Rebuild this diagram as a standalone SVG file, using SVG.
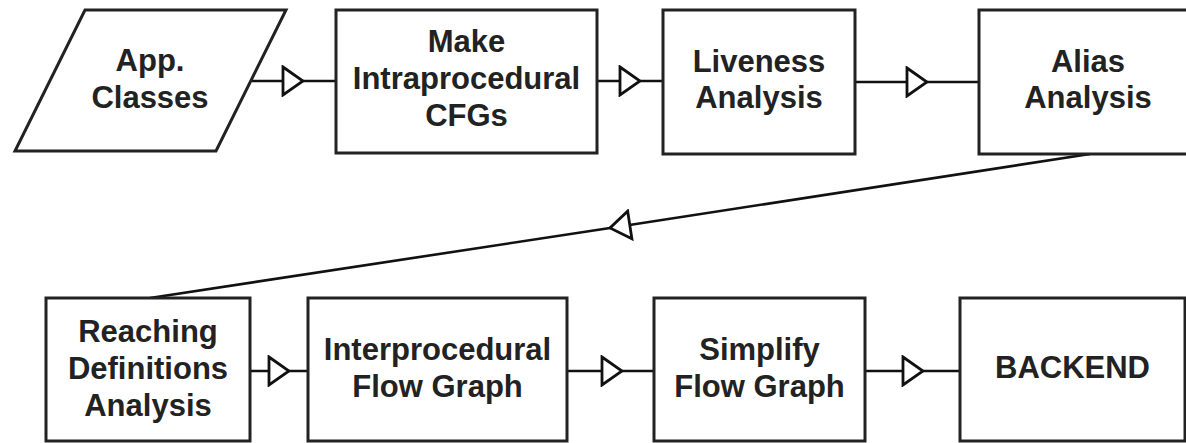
<svg xmlns="http://www.w3.org/2000/svg" width="1186" height="443" viewBox="0 0 1186 443">
<defs>
<style>
.box{fill:#fff;stroke:#222;stroke-width:3}
.lbl{font-family:"Liberation Sans",Arial,sans-serif;font-weight:bold;font-size:31px;fill:#222;text-anchor:middle}
.con{fill:none;stroke:#111;stroke-width:2.6;marker-mid:url(#tri)}
</style>
<marker id="tri" markerUnits="userSpaceOnUse" viewBox="0 0 24 32" markerWidth="24" markerHeight="32" refX="22" refY="16" orient="auto">
<path d="M2,2 L22,16 L2,30 Z" fill="#fff" stroke="#111" stroke-width="2.8" stroke-linejoin="miter"/>
</marker>
</defs>
<rect width="1186" height="443" fill="#fff"/>
<g id="connectors">
<polyline class="con" points="252,81 303,81 336,81"/>
<polyline class="con" points="597,81 640,81 663,81"/>
<polyline class="con" points="855,82 927,82 979,82"/>
<polyline class="con" points="1090,154 610,228 150,298"/>
<polyline class="con" points="250,371 289,371 308,371"/>
<polyline class="con" points="567,371 622,371 654,371"/>
<polyline class="con" points="865,371 923,371 960,371"/>
</g>
<g id="app-classes">
<polygon class="box" points="85,10 286,10 216,151 15,151"/>
<text class="lbl" x="150" y="71">App.</text>
<text class="lbl" x="150" y="108">Classes</text>
</g>
<g id="make-cfgs">
<rect class="box" x="336" y="10" width="261" height="143"/>
<text class="lbl" x="466.5" y="52">Make</text>
<text class="lbl" x="466.5" y="89">Intraprocedural</text>
<text class="lbl" x="466.5" y="126">CFGs</text>
</g>
<g id="liveness">
<rect class="box" x="663" y="10" width="192" height="144"/>
<text class="lbl" x="759" y="72">Liveness</text>
<text class="lbl" x="759" y="108">Analysis</text>
</g>
<g id="alias">
<rect class="box" x="979" y="10" width="218" height="144"/>
<text class="lbl" x="1088" y="72">Alias</text>
<text class="lbl" x="1088" y="108">Analysis</text>
</g>
<g id="reaching">
<rect class="box" x="46" y="298" width="204" height="143"/>
<text class="lbl" x="148" y="342">Reaching</text>
<text class="lbl" x="148" y="379">Definitions</text>
<text class="lbl" x="148" y="416">Analysis</text>
</g>
<g id="interprocedural">
<rect class="box" x="308" y="298" width="259" height="143"/>
<text class="lbl" x="437.5" y="360">Interprocedural</text>
<text class="lbl" x="437.5" y="397">Flow Graph</text>
</g>
<g id="simplify">
<rect class="box" x="654" y="298" width="211" height="143"/>
<text class="lbl" x="759.5" y="360">Simplify</text>
<text class="lbl" x="759.5" y="397">Flow Graph</text>
</g>
<g id="backend">
<rect class="box" x="960" y="298" width="225" height="143"/>
<text class="lbl" x="1072.5" y="378">BACKEND</text>
</g>
</svg>
